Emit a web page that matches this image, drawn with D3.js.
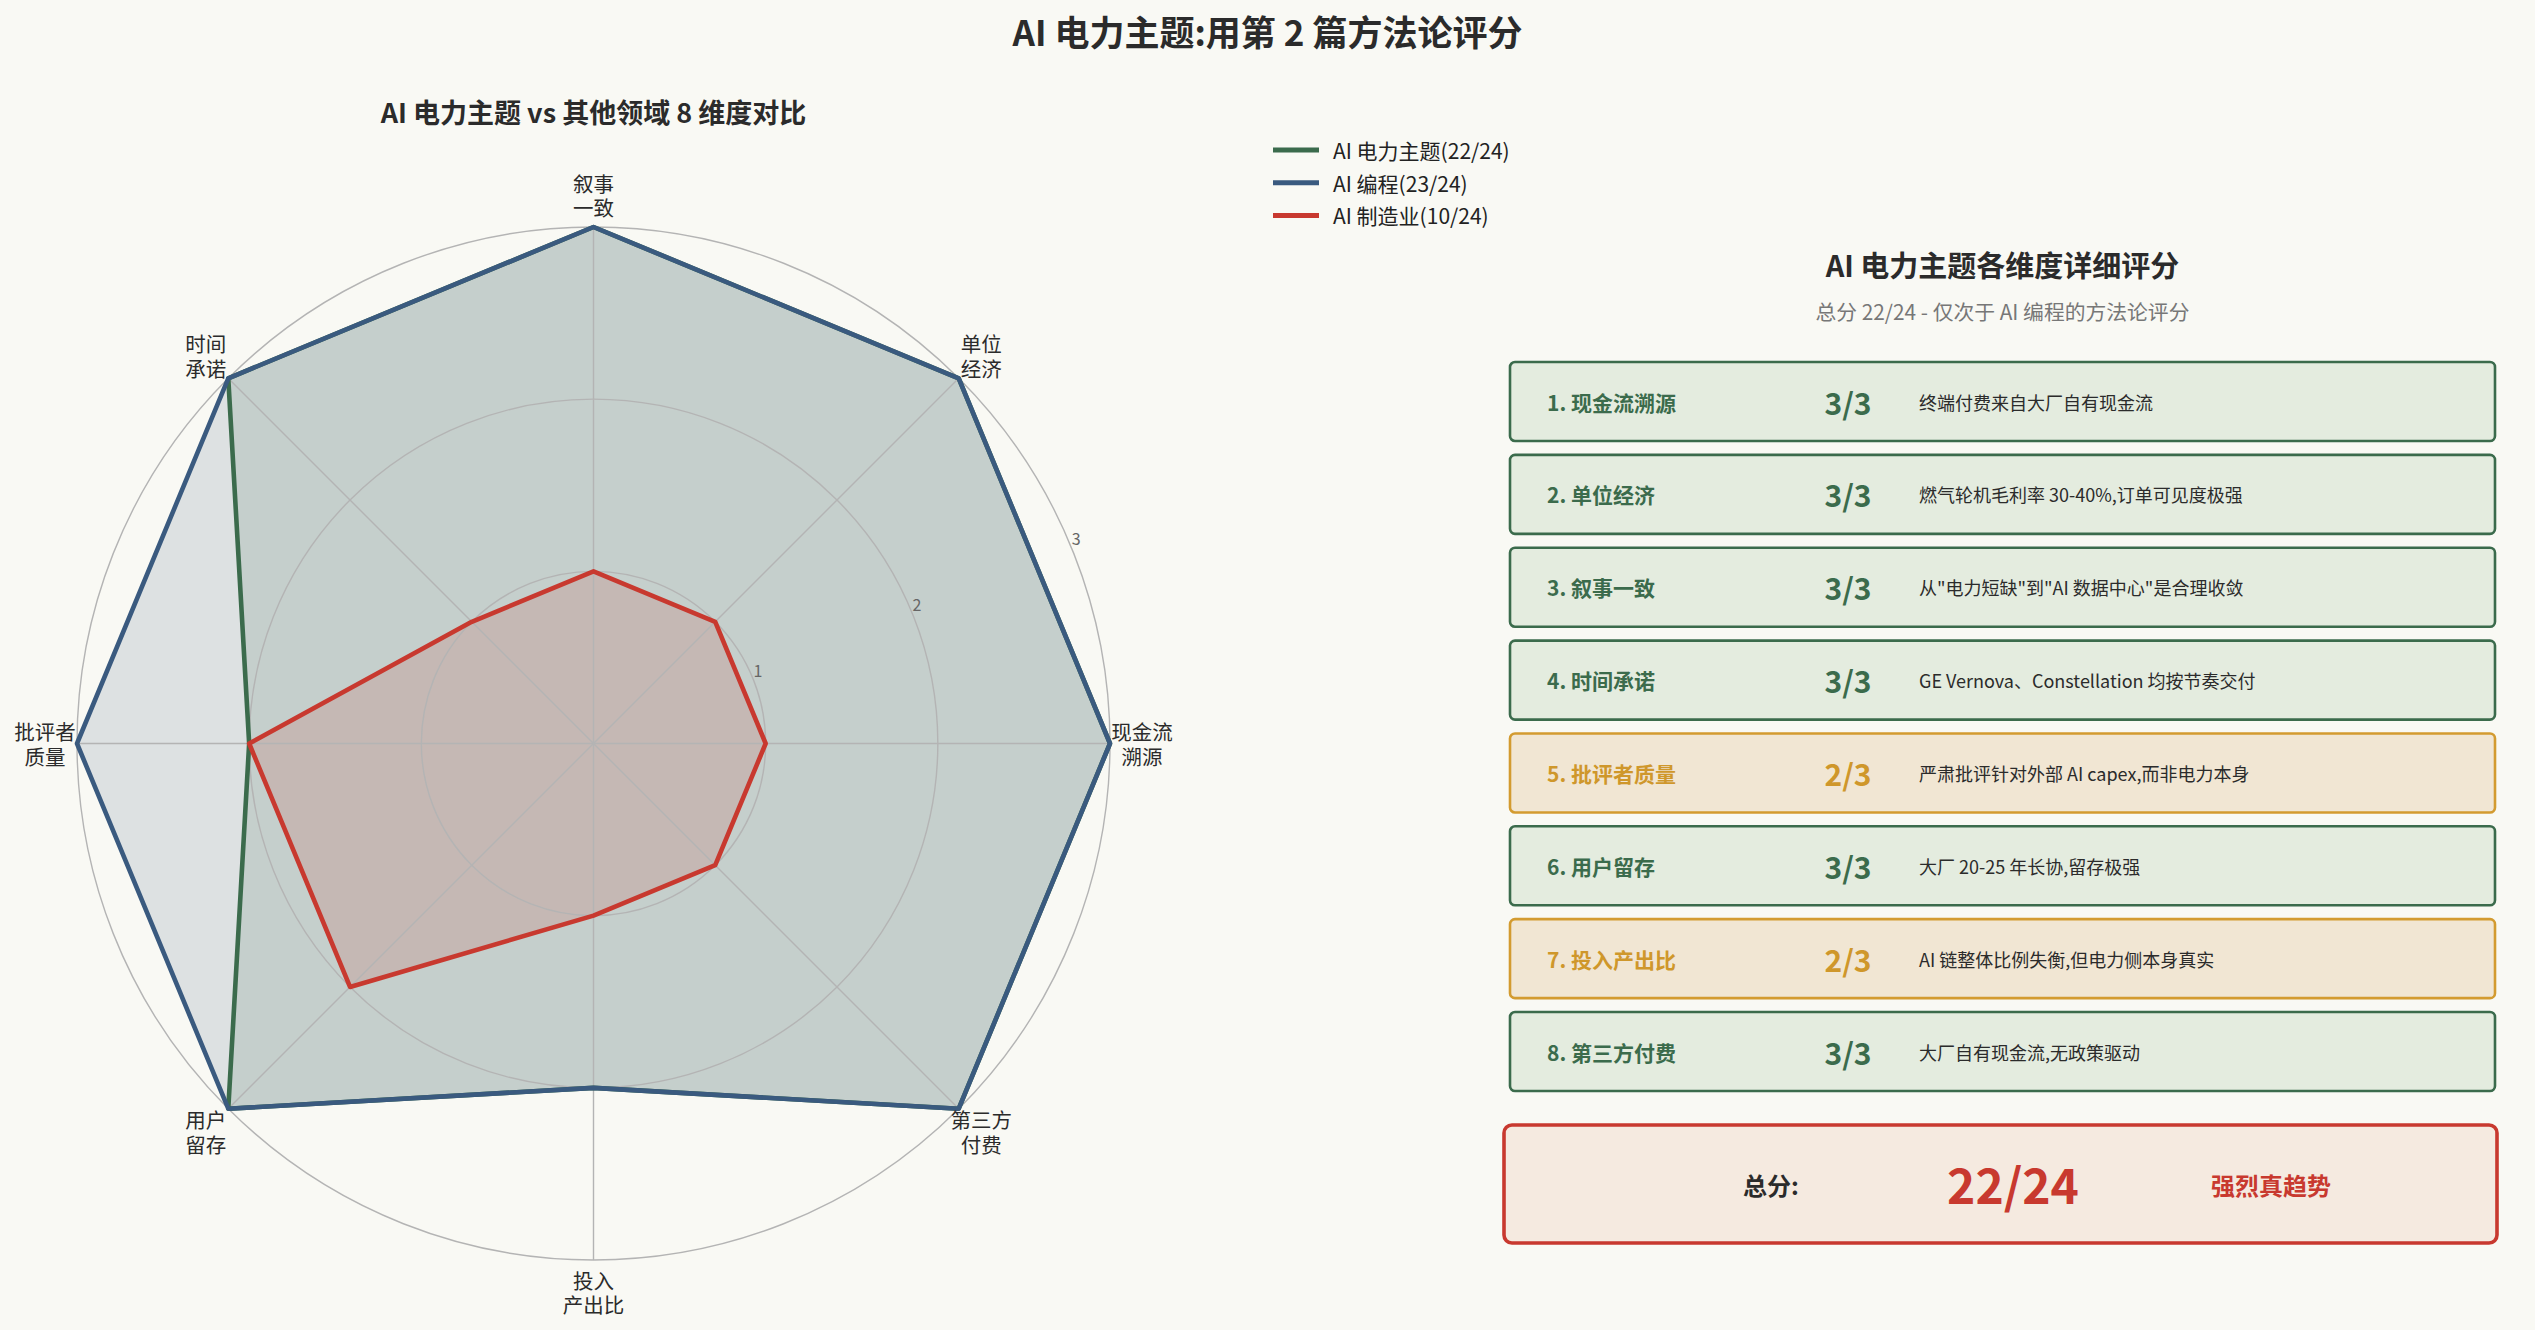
<!DOCTYPE html>
<html>
<head>
<meta charset="utf-8">
<script src="https://cdn.jsdelivr.net/npm/d3@7"></script>
<style>
  html, body { margin: 0; padding: 0; background: #f9f9f4; }
  svg { display: block; }
  text { font-family: "Noto Sans CJK SC", "Noto Sans", sans-serif; }
</style>
</head>
<body>
<svg id="chart" width="2535" height="1330"></svg>
<script>
// ---------------- DATA ----------------
const mainTitle = "AI 电力主题:用第 2 篇方法论评分";
const radarTitle = "AI 电力主题 vs 其他领域 8 维度对比";
const detailTitle = "AI 电力主题各维度详细评分";
const detailSubtitle = "总分 22/24 - 仅次于 AI 编程的方法论评分";

const dimensions = ["现金流溯源", "单位经济", "叙事一致", "时间承诺", "批评者质量", "用户留存", "投入产出比", "第三方付费"];
const axisLabels = [["现金流", "溯源"], ["单位", "经济"], ["叙事", "一致"], ["时间", "承诺"], ["批评者", "质量"], ["用户", "留存"], ["投入", "产出比"], ["第三方", "付费"]];

const seriesNames = ["AI 电力主题(22/24)", "AI 编程(23/24)", "AI 制造业(10/24)"];
const powerScores = [3, 3, 3, 3, 2, 3, 2, 3];
const codingScores = [3, 3, 3, 3, 3, 3, 2, 3];
const mfgScores = [1, 1, 1, 1, 2, 2, 1, 1];
const seriesColors = ["#3b6b4c", "#3a5a7f", "#c8392f"];

const radialTicks = [1, 2, 3];
const maxScore = 3;

const descriptions = [
  "终端付费来自大厂自有现金流",
  "燃气轮机毛利率 30-40%,订单可见度极强",
  "从\"电力短缺\"到\"AI 数据中心\"是合理收敛",
  "GE Vernova、Constellation 均按节奏交付",
  "严肃批评针对外部 AI capex,而非电力本身",
  "大厂 20-25 年长协,留存极强",
  "AI 链整体比例失衡,但电力侧本身真实",
  "大厂自有现金流,无政策驱动"
];

const totalLabel = "总分:";
const totalScoreText = "22/24";
const verdict = "强烈真趋势";

// ---------------- LAYOUT ----------------
const svg = d3.select("#chart");
svg.append("rect").attr("width", 2535).attr("height", 1330).attr("fill", "#f9f9f4");

svg.append("text")
  .attr("x", 1267.5).attr("y", 30)
  .attr("text-anchor", "middle").attr("dominant-baseline", "central")
  .attr("font-size", 35).attr("font-weight", "bold").attr("fill", "#2b2b2b")
  .text(mainTitle);

// ---------------- RADAR ----------------
const cx = 593.5, cy = 743.5, R = 516.5;
const rScale = d3.scaleLinear().domain([0, maxScore]).range([0, R]);
// d3 radial angle: clockwise from 12 o'clock; dimension i is at i*45° counter-clockwise from east
const angleScale = d3.scaleLinear().domain([0, dimensions.length]).range([Math.PI / 2, Math.PI / 2 - 2 * Math.PI]);

const radar = svg.append("g").attr("transform", `translate(${cx},${cy})`);

svg.append("text")
  .attr("x", cx).attr("y", 111)
  .attr("text-anchor", "middle").attr("dominant-baseline", "central")
  .attr("font-size", 27).attr("font-weight", "bold").attr("fill", "#2b2b2b")
  .text(radarTitle);

const series = [
  { name: seriesNames[0], values: powerScores, color: seriesColors[0] },
  { name: seriesNames[1], values: codingScores, color: seriesColors[1] },
  { name: seriesNames[2], values: mfgScores, color: seriesColors[2] }
];

const radial = d3.lineRadial()
  .angle((d, i) => angleScale(i))
  .radius(d => rScale(d))
  .curve(d3.curveLinearClosed);

// fills
radar.selectAll("path.fill").data(series).join("path")
  .attr("class", "fill")
  .attr("d", d => radial(d.values))
  .attr("fill", d => d.color)
  .attr("fill-opacity", 0.15)
  .attr("stroke", "none");

// grid circles
radar.selectAll("circle.grid").data(radialTicks).join("circle")
  .attr("class", "grid")
  .attr("r", d => rScale(d))
  .attr("fill", "none")
  .attr("stroke", "#b4b4b4")
  .attr("stroke-width", 1.4);

// spokes
const pt = (i, v) => {
  const a = angleScale(i);
  return [rScale(v) * Math.sin(a), -rScale(v) * Math.cos(a)];
};
radar.selectAll("line.spoke").data(dimensions).join("line")
  .attr("class", "spoke")
  .attr("x1", 0).attr("y1", 0)
  .attr("x2", (d, i) => pt(i, maxScore)[0])
  .attr("y2", (d, i) => pt(i, maxScore)[1])
  .attr("stroke", "#b4b4b4")
  .attr("stroke-width", 1.4);

// lines
radar.selectAll("path.line").data(series).join("path")
  .attr("class", "line")
  .attr("d", d => radial(d.values))
  .attr("fill", "none")
  .attr("stroke", d => d.color)
  .attr("stroke-width", 4.6)
  .attr("stroke-linejoin", "round");

// radial tick labels at 22.5°
const rlabAngle = Math.PI / 2 - Math.PI / 8;
radar.selectAll("text.rtick").data(radialTicks).join("text")
  .attr("class", "rtick")
  .attr("x", d => (rScale(d) + 8) * Math.sin(rlabAngle) - 2)
  .attr("y", d => -(rScale(d) + 8) * Math.cos(rlabAngle) - 5)
  .attr("text-anchor", "middle").attr("dominant-baseline", "central")
  .attr("font-size", 16).attr("fill", "#666")
  .text(d => d);

// axis labels (one text element per label, one tspan per line)
const labelR = R + 32;
const lh = 24.5;
const labText = radar.selectAll("text.axlab").data(axisLabels).join("text")
  .attr("class", "axlab")
  .attr("transform", (d, i) => {
    const a = angleScale(i);
    return `translate(${labelR * Math.sin(a)},${-labelR * Math.cos(a)})`;
  })
  .attr("text-anchor", "middle").attr("dominant-baseline", "central")
  .attr("font-size", 20.5).attr("fill", "#2b2b2b");
labText.selectAll("tspan").data(d => d.map((t, k) => ({ t, k, n: d.length }))).join("tspan")
  .attr("x", 0)
  .attr("y", d => (d.k - (d.n - 1) / 2) * lh)
  .attr("dominant-baseline", "central")
  .text(d => d.t);

// legend
const legend = svg.append("g").attr("transform", "translate(1273,150)");
const legItems = legend.selectAll("g").data(series).join("g")
  .attr("transform", (d, i) => `translate(0,${i * 32.7})`);
legItems.append("line")
  .attr("x1", 0).attr("x2", 46).attr("y1", 0).attr("y2", 0)
  .attr("stroke", d => d.color).attr("stroke-width", 5);
legItems.append("text")
  .attr("x", 60).attr("y", 0)
  .attr("dominant-baseline", "central")
  .attr("font-size", 21).attr("fill", "#222")
  .text(d => d.name);

// ---------------- DETAIL PANEL ----------------
const panelCx = 2002.5;
svg.append("text")
  .attr("x", panelCx).attr("y", 264)
  .attr("text-anchor", "middle").attr("dominant-baseline", "central")
  .attr("font-size", 29).attr("font-weight", "bold").attr("fill", "#2b2b2b")
  .text(detailTitle);
svg.append("text")
  .attr("x", panelCx).attr("y", 311)
  .attr("text-anchor", "middle").attr("dominant-baseline", "central")
  .attr("font-size", 20.8).attr("fill", "#777")
  .text(detailSubtitle);

const rowY = d3.scaleBand().domain(d3.range(dimensions.length)).range([362, 362 + 92.86 * 8]).paddingInner(0);
const boxX = 1510, boxW = 985, boxH = 79;
const styleFor = v => v === 3
  ? { fill: "#e4ecdf", stroke: "#3b6b4c", text: "#3b6b4c" }
  : { fill: "#f1e6d3", stroke: "#d39b30", text: "#cf972b" };

const rows = svg.selectAll("g.row").data(dimensions).join("g")
  .attr("class", "row")
  .attr("transform", (d, i) => `translate(${boxX},${rowY(i)})`);
rows.append("rect")
  .attr("width", boxW).attr("height", boxH)
  .attr("rx", 5).attr("ry", 5)
  .attr("fill", (d, i) => styleFor(powerScores[i]).fill)
  .attr("stroke", (d, i) => styleFor(powerScores[i]).stroke)
  .attr("stroke-width", 2.6);
rows.append("text")
  .attr("x", 37).attr("y", boxH / 2)
  .attr("dominant-baseline", "central")
  .attr("font-size", 21).attr("font-weight", "bold")
  .attr("fill", (d, i) => styleFor(powerScores[i]).text)
  .text((d, i) => `${i + 1}. ${d}`);
rows.append("text")
  .attr("x", 338).attr("y", boxH / 2)
  .attr("text-anchor", "middle").attr("dominant-baseline", "central")
  .attr("font-size", 30).attr("font-weight", "bold")
  .attr("fill", (d, i) => styleFor(powerScores[i]).text)
  .text((d, i) => `${powerScores[i]}/${maxScore}`);
rows.append("text")
  .attr("x", 409).attr("y", boxH / 2)
  .attr("dominant-baseline", "central")
  .attr("font-size", 18).attr("fill", "#2b2b2b")
  .text((d, i) => descriptions[i]);

// summary box
const sum = svg.append("g").attr("transform", "translate(1504,1125)");
sum.append("rect")
  .attr("width", 993).attr("height", 118)
  .attr("rx", 8).attr("ry", 8)
  .attr("fill", "#f5eae0")
  .attr("stroke", "#c8392f").attr("stroke-width", 3.6);
sum.append("text")
  .attr("x", 267).attr("y", 59)
  .attr("text-anchor", "middle").attr("dominant-baseline", "central")
  .attr("font-size", 24).attr("font-weight", "bold").attr("fill", "#2b2b2b")
  .text(totalLabel);
sum.append("text")
  .attr("x", 509).attr("y", 58)
  .attr("text-anchor", "middle").attr("dominant-baseline", "central")
  .attr("font-size", 48).attr("font-weight", "bold").attr("fill", "#c8392f")
  .text(totalScoreText);
sum.append("text")
  .attr("x", 767).attr("y", 59)
  .attr("text-anchor", "middle").attr("dominant-baseline", "central")
  .attr("font-size", 24).attr("font-weight", "bold").attr("fill", "#c8392f")
  .text(verdict);
</script>
</body>
</html>
